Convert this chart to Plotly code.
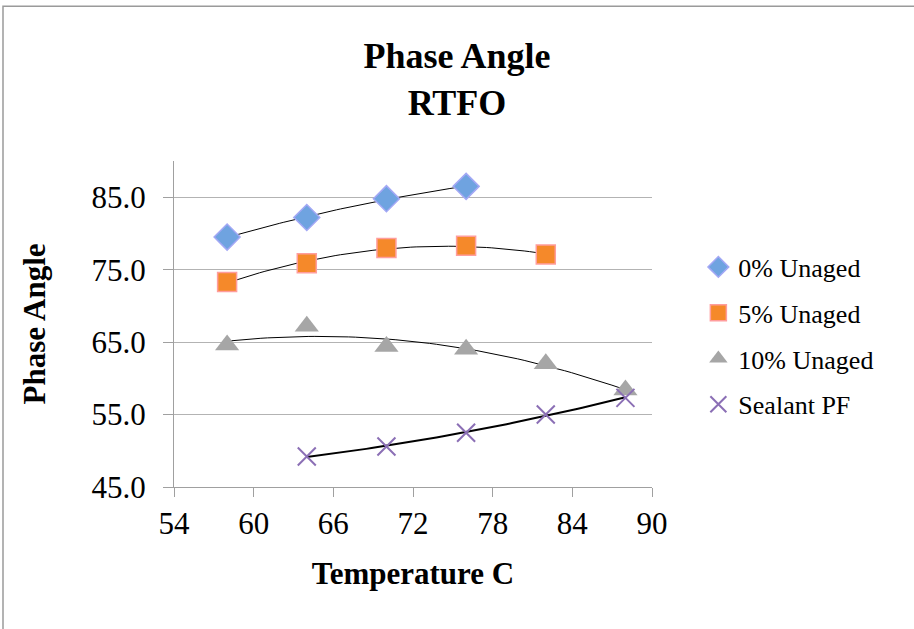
import numpy as np
import plotly.graph_objects as go

# ---- data ----
temp_0 = [58, 64, 70, 76]
phase_0 = [79.5, 82.2, 84.8, 86.5]

temp_5 = [58, 64, 70, 76, 82]
phase_5 = [73.3, 75.9, 78.0, 78.3, 77.1]

temp_10 = [58, 64, 70, 76, 82, 88]
phase_10 = [64.6, 67.2, 64.4, 64.0, 62.0, 58.4]

temp_s = [64, 70, 76, 82, 88]
phase_s = [49.2, 50.6, 52.5, 55.0, 57.3]

names = ["0% Unaged", "5% Unaged", "10% Unaged", "Sealant PF"]
x_ticks = [54, 60, 66, 72, 78, 84, 90]
y_ticks = [45, 55, 65, 75, 85]

FONT = "Liberation Serif, Times New Roman, serif"

series = [
    (temp_0, phase_0, names[0], dict(symbol="diamond", size=20, color="#6fa3e0",
                                     line=dict(color="#a3a8f5", width=1.5)), 1),
    (temp_5, phase_5, names[1], dict(symbol="square", size=19, color="#f5892a",
                                     line=dict(color="#ff9d9d", width=1.5)), 1),
    (temp_10, phase_10, names[2], dict(symbol="triangle-up", size=21, color="#a6a6a6",
                                       line=dict(color="#a6a6a6", width=0)), 1),
    (temp_s, phase_s, names[3], dict(symbol="x-thin", size=18, color="#8b6fb5",
                                     line=dict(color="#8b6fb5", width=2)), 2),
]

fig = go.Figure()
for i, (xs, ys, nm, mk, tw) in enumerate(series):
    # order-2 polynomial trendline, as in the original chart
    c = np.polyfit(xs, ys, 2)
    xx = np.linspace(min(xs), max(xs), 60)
    fig.add_trace(go.Scatter(x=xx, y=np.polyval(c, xx), mode="lines",
                             line=dict(color="black", width=tw),
                             showlegend=False, hoverinfo="skip"))
for i, (xs, ys, nm, mk, tw) in enumerate(series):
    fig.add_trace(go.Scatter(x=xs, y=ys, mode="markers", name=nm, marker=mk,
                             legendgroup=nm))

fig.update_layout(
    width=914, height=629,
    margin=dict(l=174, r=262, t=161, b=142),
    paper_bgcolor="white", plot_bgcolor="white",
    font=dict(family=FONT, color="black"),
    title=dict(text="<b>Phase Angle<br>RTFO</b>", x=0.5, xanchor="center",
               y=1 - 68 / 629, yanchor="top",
               font=dict(family=FONT, size=36, color="black")),
    legend=dict(x=1.097, xanchor="left", y=0.747, yanchor="top",
                font=dict(family=FONT, size=26), tracegroupgap=9,
                bgcolor="rgba(0,0,0,0)", itemwidth=30),
    showlegend=True,
    shapes=[dict(type="rect", xref="paper", yref="paper",
                 x0=(3 - 174) / 478, x1=2, y0=-1, y1=(487 - 6) / 326.25,
                 line=dict(color="#9a9a9a", width=1.5), layer="below")],
)
fig.update_xaxes(range=[54, 90], tickvals=x_ticks, ticks="outside", ticklen=9,
                 tickcolor="#a0a0a0", showline=True, linecolor="#a0a0a0",
                 linewidth=1, showgrid=False, zeroline=False,
                 tickfont=dict(family=FONT, size=31),
                 title=dict(text="<b>Temperature C</b>", standoff=22,
                            font=dict(family=FONT, size=31)))
fig.update_yaxes(range=[45, 90], tickvals=y_ticks, tickformat=".1f",
                 ticks="outside", ticklen=10, tickcolor="#a0a0a0",
                 ticklabelstandoff=11,
                 showline=True, linecolor="#a0a0a0", linewidth=1,
                 showgrid=True, gridcolor="#b3b3b3", gridwidth=1, zeroline=False,
                 tickfont=dict(family=FONT, size=31),
                 title=dict(text="<b>Phase Angle</b>", standoff=36,
                            font=dict(family=FONT, size=31)))

fig.write_html("out.html")
